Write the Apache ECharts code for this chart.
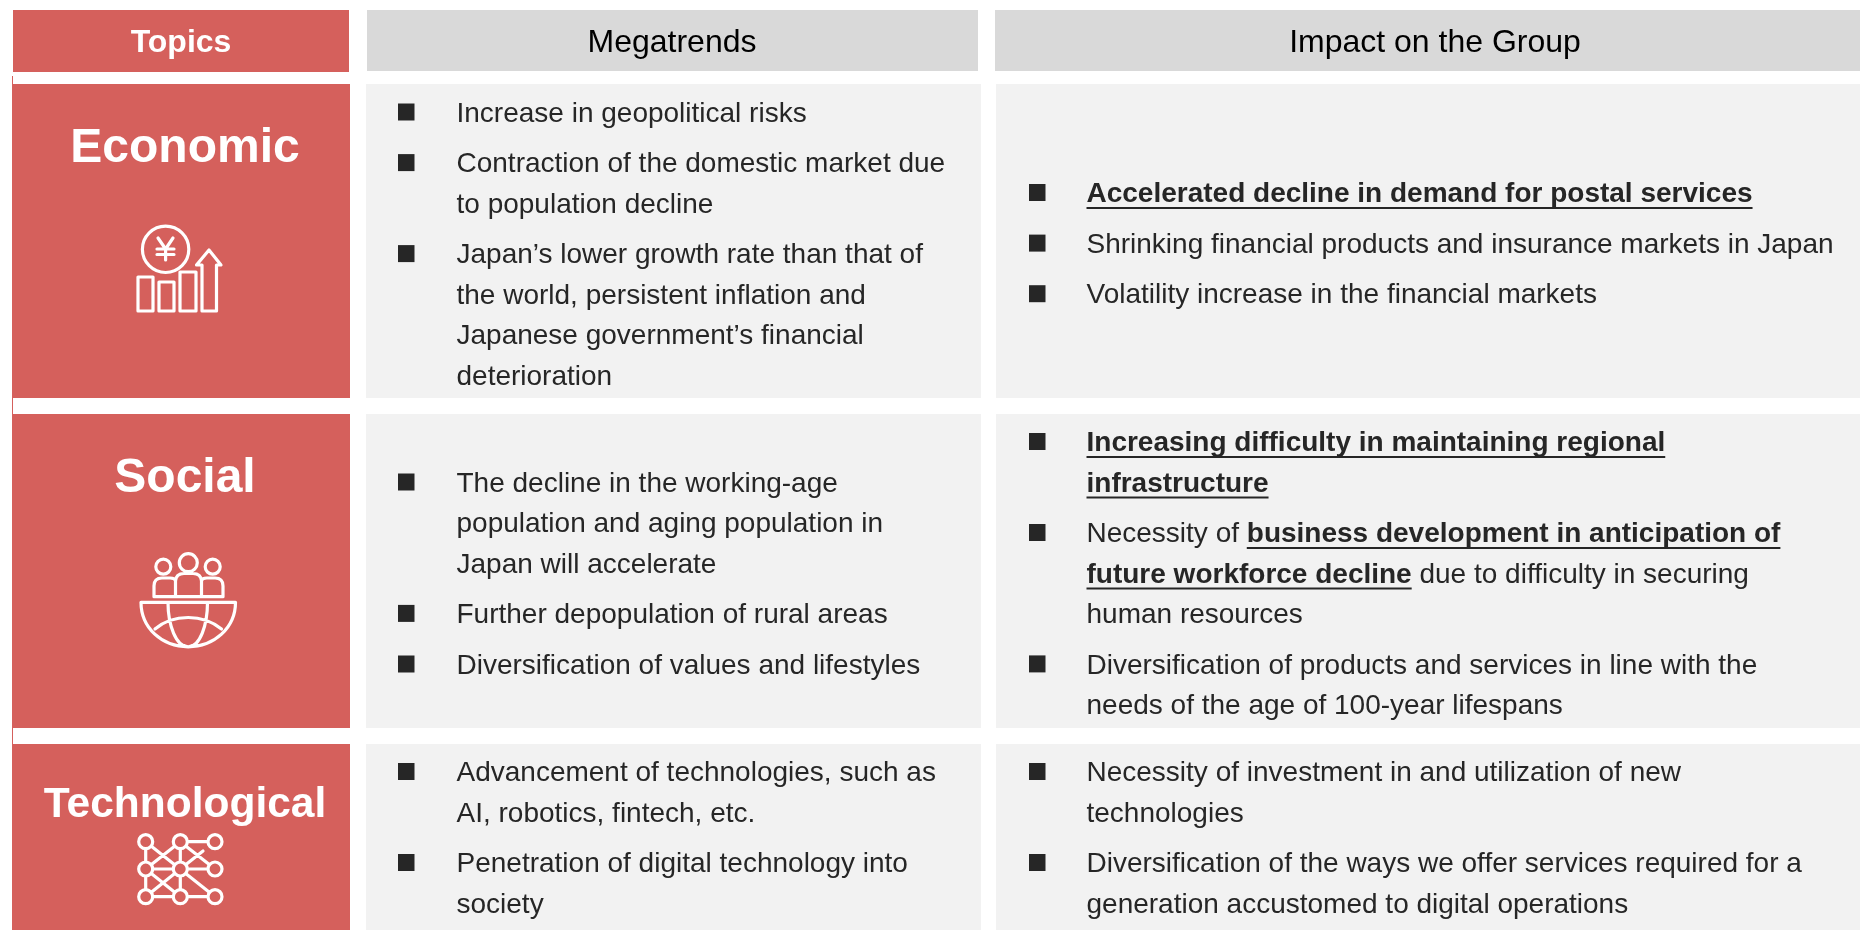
<!DOCTYPE html>
<html><head><meta charset="utf-8">
<style>html,body{margin:0;padding:0;background:#fff}#c{width:1860px;height:930px}</style>
<script src="https://cdn.jsdelivr.net/npm/echarts@6/dist/echarts.min.js"></script>
</head><body><div id="c"></div>
<script>
// ---- content ----
const headers = ['Topics', 'Megatrends', 'Impact on the Group'];
const topics = ['Economic', 'Social', 'Technological'];
// **…** marks bold underlined runs; each inner array is one bullet's wrapped lines
const megatrends = [
  [['Increase in geopolitical risks'],
   ['Contraction of the domestic market due', 'to population decline'],
   ['Japan\u2019s lower growth rate than that of', 'the world, persistent inflation and', 'Japanese government\u2019s financial', 'deterioration']],
  [['The decline in the working-age', 'population and aging population in', 'Japan will accelerate'],
   ['Further depopulation of rural areas'],
   ['Diversification of values and lifestyles']],
  [['Advancement of technologies, such as', 'AI, robotics, fintech, etc.'],
   ['Penetration of digital technology into', 'society']]
];
const impacts = [
  [['**Accelerated decline in demand for postal services**'],
   ['Shrinking financial products and insurance markets in Japan'],
   ['Volatility increase in the financial markets']],
  [['**Increasing difficulty in maintaining regional**', '**infrastructure**'],
   ['Necessity of **business development in anticipation of**', '**future workforce decline** due to difficulty in securing', 'human resources'],
   ['Diversification of products and services in line with the', 'needs of the age of 100-year lifespans']],
  [['Necessity of investment in and utilization of new', 'technologies'],
   ['Diversification of the ways we offer services required for a', 'generation accustomed to digital operations']]
];

// ---- layout ----
const W = 1860, H = 930;
const RED = '#D5605C', HEAD = '#D9D9D9', BODY = '#F2F2F2', INK = '#262626';
const FONT = 'Liberation Sans';
const BODY_SIZE = 28, LINE = 40.4, BUL = 50.6;
const rowTop = [84, 414, 744], rowBot = [398, 728, 930];
const startY = { m: [114, 484, 773.5], i: [194.5, 443.5, 773.5] };
const colM = { left: 366, right: 981, bx: 398, tx: 456.5 };
const colI = { left: 996, right: 1860, bx: 1029, tx: 1086.5 };
const topicY = [149, 479, 805], topicSize = [48, 48, 42.5];
const iconPaths = [
  // yen + bars + arrow
  'M153 277H138V311H153ZM174 282H159V311H174ZM196 272H180V311H196ZM202 311V265H196.5L209 250L221 265H216.5V311Z' +
  'M142.4 249.3a23.2 23.2 0 1 0 46.4 0a23.2 23.2 0 1 0 -46.4 0Z' +
  'M158 238L165.6 249L173 238M165.6 249V260M157 249H174M157 254.5H174',
  // people + globe
  'M155.8 566.7a7.5 7.5 0 1 0 15 0a7.5 7.5 0 1 0 -15 0ZM179.3 562.7a9 9 0 1 0 18 0a9 9 0 1 0 -18 0ZM205.2 566.7a7.5 7.5 0 1 0 15 0a7.5 7.5 0 1 0 -15 0Z' +
  'M154 596.7V586Q154 578 162 578H170Q175 578 175.5 581V596.7M175.5 581Q176 573.5 184 573.5H193Q201 573.5 201.5 581V596.7M201.5 581Q202 578 207 578H215Q223 578 223 586V596.7H154' +
  'M141 602.3H235.5C235.5 628 214 646.8 188.2 646.8C162 646.8 141 628 141 602.3Z' +
  'M168 602.3C168 625 176 646.8 188.2 646.8C200 646.8 207.5 625 207.5 602.3' +
  'M155 629C165 620.5 176 617.5 188.2 617.5C200 617.5 211 620.5 221.5 629',
  // network lines
  'M145.7 841.7V896.7M180.3 841.7V896.7M180.3 841.7H215M145.7 869H215M145.7 896.7H215' +
  'M145.7 841.7L215 896.7M180.3 841.7L145.7 869M180.3 841.7L215 869M180.3 869L145.7 896.7M145.7 869L180.3 896.7M180.3 869L203 851'
];
const netNodes = [[145.7,841.7],[180.3,841.7],[215,841.7],[145.7,869],[180.3,869],[215,869],[145.7,896.7],[180.3,896.7],[215,896.7]];

// ---- flatten ----
const rects = [];
const addRect = (x0, y0, x1, y1, fill) => rects.push({ value: [x0, y0, x1, y1], fill });
addRect(13, 10, 349, 72, RED);
addRect(367, 10, 978, 71, HEAD);
addRect(995, 10, W, 71, HEAD);
addRect(12, 76, 13, H, RED);
topics.forEach((_, r) => {
  addRect(12, rowTop[r], 350, rowBot[r], RED);
  addRect(colM.left, rowTop[r], colM.right, rowBot[r], BODY);
  addRect(colI.left, rowTop[r], colI.right, rowBot[r], BODY);
});

const texts = [];
const bullets = [];
const meas = document.createElement('canvas').getContext('2d');
function addLine(str, x, y) {
  const parts = str.split('**');
  let cx = x;
  parts.forEach((p, i) => {
    if (!p) return;
    const bold = i % 2 === 1;
    meas.font = (bold ? 'bold ' : '') + BODY_SIZE + 'px "' + FONT + '"';
    const w = meas.measureText(p).width;
    texts.push({ value: [cx, y], text: p, size: BODY_SIZE, bold, fill: INK, align: 'left', under: bold ? w : 0 });
    cx += w;
  });
}
function addCol(list, col, ys) {
  list.forEach((groups, r) => {
    let y = ys[r];
    groups.forEach(lines => {
      bullets.push({ value: [col.bx, y - 10.5, col.bx + 16.5, y + 6.5] });
      lines.forEach(l => { addLine(l, col.tx, y); y += LINE; });
      y += BUL - LINE;
    });
  });
}
addCol(megatrends, colM, startY.m);
addCol(impacts, colI, startY.i);

const heads = [[181, true, '#fff'], [672, false, '#000'], [1435, false, '#000']];
headers.forEach((h, i) => texts.push({ value: [heads[i][0], 43.5], text: h, size: 32, bold: heads[i][1], fill: heads[i][2], align: 'center', under: 0 }));
topics.forEach((t, i) => texts.push({ value: [185, topicY[i]], text: t, size: topicSize[i], bold: true, fill: '#fff', align: 'center', under: 0 }));

// ---- chart ----
const chart = echarts.init(document.getElementById('c'), null, { renderer: 'canvas' });
const rectItem = (p, api, items, getFill) => {
  const v = items[p.dataIndex].value;
  const a = api.coord([v[0], v[1]]), b = api.coord([v[2], v[3]]);
  return { type: 'rect', shape: { x: a[0], y: a[1], width: b[0] - a[0], height: b[1] - a[1] }, style: { fill: getFill(items[p.dataIndex]) } };
};
const whiteStroke = { stroke: '#fff', lineWidth: 3.2, fill: 'none', lineJoin: 'round', lineCap: 'round' };
chart.setOption({
  animation: false,
  backgroundColor: '#fff',
  grid: { left: 0, right: 0, top: 0, bottom: 0 },
  xAxis: { type: 'value', min: 0, max: W, show: false },
  yAxis: { type: 'value', min: 0, max: H, inverse: true, show: false },
  tooltip: { show: false },
  series: [
    { type: 'custom', name: 'cells', silent: true, clip: false, data: rects, encode: { x: [0, 2], y: [1, 3] },
      renderItem: (p, api) => rectItem(p, api, rects, d => d.fill) },
    { type: 'custom', name: 'bullets', silent: true, clip: false, data: bullets, encode: { x: [0, 2], y: [1, 3] },
      renderItem: (p, api) => rectItem(p, api, bullets, () => INK) },
    { type: 'custom', name: 'text', silent: true, clip: false, data: texts, encode: { x: 0, y: 1 },
      renderItem: (p, api) => {
        const d = texts[p.dataIndex], c = api.coord(d.value);
        const kids = [{ type: 'text', style: { text: d.text, x: c[0], y: c[1], fontFamily: FONT, fontSize: d.size, fontWeight: d.bold ? 'bold' : 'normal', fill: d.fill, align: d.align, verticalAlign: 'middle' } }];
        if (d.under) kids.push({ type: 'rect', shape: { x: c[0], y: c[1] + 12.5, width: d.under, height: 2 }, style: { fill: INK } });
        return { type: 'group', children: kids };
      } },
    { type: 'custom', name: 'icons', silent: true, clip: false, data: iconPaths.map((_, i) => ({ value: [0, 0], i })), encode: { x: 0, y: 1 },
      renderItem: (p) => ({ type: 'path', shape: { pathData: 'M0 0M' + W + ' ' + H + iconPaths[p.dataIndex], layout: 'cover', x: 0, y: 0, width: W, height: H }, style: whiteStroke }) },
    { type: 'custom', name: 'nodes', silent: true, clip: false, data: netNodes, encode: { x: 0, y: 1 },
      renderItem: (p, api) => { const c = api.coord(netNodes[p.dataIndex]);
        return { type: 'circle', shape: { cx: c[0], cy: c[1], r: 7 }, style: { stroke: '#fff', lineWidth: 3.2, fill: RED } }; } }
  ]
});
</script></body></html>
